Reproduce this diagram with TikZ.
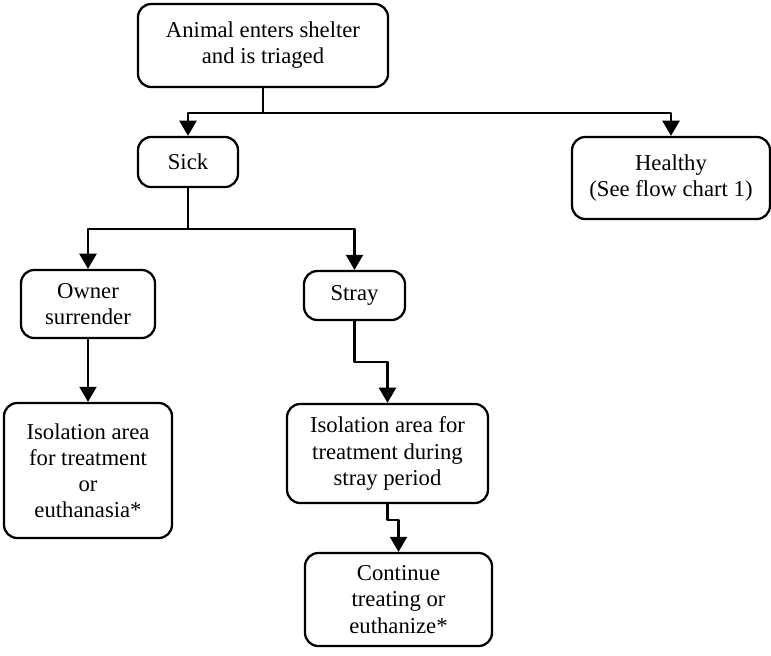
\documentclass[tikz,border=0pt]{standalone}
\usepackage{fontspec}
\setmainfont{Liberation Serif}
\usetikzlibrary{arrows.meta}

\tikzset{
  stepbox/.style={draw,line width=1.2pt,rounded corners=7pt,align=center,inner sep=0pt,
    font=\fontsize{12}{13.8}\selectfont},
  flow/.style={line width=1.2pt,-{Triangle[length=8pt,width=9pt]}}
}

\begin{document}
\begin{tikzpicture}[line cap=round,line join=round,x=0.529pt,y=-0.529pt]
\useasboundingbox (0,0) rectangle (771,655);
% boxes
\node[stepbox,minimum width=132.3pt,minimum height=43.9pt] (triage) at (263,45.5) {Animal enters shelter\\and is triaged};
\node[stepbox,minimum width=52.9pt,minimum height=26.5pt] (sick) at (188,162) {Sick};
\node[stepbox,minimum width=104.7pt,minimum height=43.4pt] (healthy) at (671,178) {Healthy\\(See flow chart 1)};
\node[stepbox,minimum width=70.9pt,minimum height=36pt] (owner) at (88,304) {Owner\\surrender};
\node[stepbox,minimum width=53.4pt,minimum height=25.9pt] (stray) at (354.5,295.5) {Stray};
\node[stepbox,minimum width=88.9pt,minimum height=71.4pt] (isoowner) at (88,470.5) {Isolation area\\for treatment\\or\\euthanasia*};
\node[stepbox,minimum width=106.3pt,minimum height=52.4pt] (isostray) at (387.5,453.5) {Isolation area for\\treatment during\\stray period};
\node[stepbox,minimum width=98.9pt,minimum height=49.2pt] (cont) at (398.5,599.5) {Continue\\treating or\\euthanize*};
% junctions
\coordinate (j1) at (263,113);
\coordinate (j2) at (188,229);
\coordinate (j3) at (0,362);
\coordinate (j4) at (0,520);
% connectors
\draw[line width=1.2pt] (triage) -- (j1);
\draw[flow] (j1) -| (sick);
\draw[flow] (j1) -| (healthy);
\draw[line width=1.2pt] (sick) -- (j2);
\draw[flow] (j2) -| (owner);
\draw[flow] (j2) -| (stray);
\draw[flow] (owner) -- (isoowner);
\draw[flow] (stray.south) -- (stray.south |- j3) -| (isostray.north);
\draw[flow] (isostray.south) -- (isostray.south |- j4) -| (cont.north);
\end{tikzpicture}
\end{document}
